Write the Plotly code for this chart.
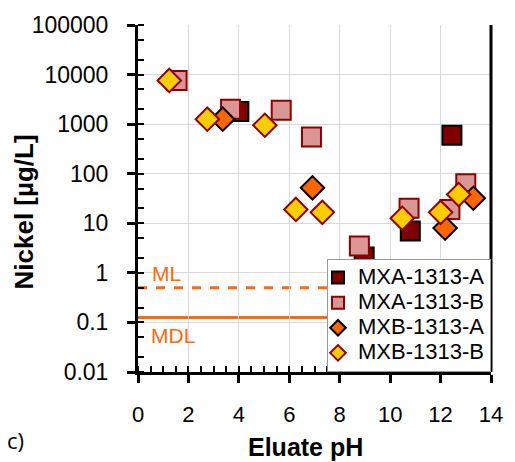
import plotly.graph_objects as go

# Data
mxa_a_ph = [4.0, 8.97, 10.8, 12.45]
mxa_a_ni = [1800, 2.1, 7, 600]

mxa_b_ph = [1.55, 3.67, 5.68, 6.88, 8.78, 10.75, 12.37, 13.0]
mxa_b_ni = [7600, 2000, 1900, 550, 3.5, 20, 19, 63]

mxb_a_ph = [3.36, 6.92, 12.18, 13.3]
mxb_a_ni = [1260, 52, 8, 32]

mxb_b_ph = [1.24, 2.75, 5.03, 6.26, 7.31, 10.48, 12.0, 12.72]
mxb_b_ni = [7600, 1260, 950, 19, 16.6, 12.6, 16.6, 38]

series_names = ["MXA-1313-A", "MXA-1313-B", "MXB-1313-A", "MXB-1313-B"]

ml_value = 0.5
mdl_value = 0.125

x_ticks = [0, 2, 4, 6, 8, 10, 12, 14]
y_ticks = [0.01, 0.1, 1, 10, 100, 1000, 10000, 100000]
y_labels = ["0.01", "0.1", "1", "10", "100", "1000", "10000", "100000"]

ORANGE = "#FF6A10"
FONT = "Liberation Sans, Arial, sans-serif"
LEG = "<span style='font-size:22px'>%s</span>"

fig = go.Figure()

# Limit lines
fig.add_shape(type="line", xref="paper", yref="y", x0=0, x1=1, y0=ml_value, y1=ml_value,
              line=dict(color=ORANGE, width=3, dash="dash"), layer="below")
fig.add_shape(type="line", xref="paper", yref="y", x0=0, x1=1, y0=mdl_value, y1=mdl_value,
              line=dict(color=ORANGE, width=3), layer="below")

fig.add_trace(go.Scatter(x=mxa_a_ph, y=mxa_a_ni, mode="markers", name=LEG % series_names[0],
                         marker=dict(symbol="square", size=19, color="#7F0000",
                                     line=dict(color="black", width=2))))
fig.add_trace(go.Scatter(x=mxa_b_ph, y=mxa_b_ni, mode="markers", name=LEG % series_names[1],
                         marker=dict(symbol="square", size=19, color="#D99694",
                                     line=dict(color="#8B0000", width=2))))
fig.add_trace(go.Scatter(x=mxb_a_ph, y=mxb_a_ni, mode="markers", name=LEG % series_names[2],
                         marker=dict(symbol="diamond", size=18, color="#FF6600",
                                     line=dict(color="black", width=2))))
fig.add_trace(go.Scatter(x=mxb_b_ph, y=mxb_b_ni, mode="markers", name=LEG % series_names[3],
                         marker=dict(symbol="diamond", size=18, color="#FFCC00",
                                     line=dict(color="#8B0000", width=2))))

fig.add_annotation(x=0.035, y=-0.02, xref="paper", yref="y", xanchor="left", yanchor="middle",
                   text="ML", showarrow=False, font=dict(family=FONT, size=21, color=ORANGE))
fig.add_annotation(x=0.03, y=-1.26, xref="paper", yref="y", xanchor="left", yanchor="middle",
                   text="MDL", showarrow=False, font=dict(family=FONT, size=21, color=ORANGE))
fig.add_annotation(x=0, y=0, xref="paper", yref="paper", xanchor="center", yanchor="middle",
                   text="c)", showarrow=False, font=dict(family="Open Sans, sans-serif", size=22, color="black"),
                   xshift=-123, yshift=-68)
# axis titles
fig.add_annotation(x=0, y=0.5, xref="paper", yref="paper", xanchor="center", yanchor="middle",
                   text="<b>Nickel [µg/L]</b>", textangle=-90, showarrow=False,
                   font=dict(family=FONT, size=26, color="black"), xshift=-115, yshift=-14)
fig.add_annotation(x=0.5, y=0, xref="paper", yref="paper", xanchor="center", yanchor="middle",
                   text="<b>Eluate pH</b>", showarrow=False,
                   font=dict(family=FONT, size=25, color="black"), xshift=-9, yshift=-75)

# right border
fig.add_shape(type="line", xref="paper", yref="paper", x0=1, x1=1, y0=0, y1=1,
              line=dict(color="black", width=3))

fig.update_layout(
    width=515, height=462,
    margin=dict(l=138, r=15, t=22, b=90),
    plot_bgcolor="white", paper_bgcolor="white",
    font=dict(family=FONT, size=23, color="black"),
    showlegend=True,
    legend=dict(x=1, y=0, xanchor="right", yanchor="bottom", bgcolor="white",
                bordercolor="#999999", borderwidth=1, font=dict(size=17, family=FONT),
                itemsizing="constant", tracegroupgap=0, itemwidth=30,
                indentation=-10),
    xaxis=dict(range=[0, 14], tickvals=x_ticks, showgrid=True, gridcolor="#D9D9D9", gridwidth=1,
               showline=True, linecolor="black", linewidth=3, ticks="outside", ticklen=8,
               tickwidth=3, tickcolor="black", zeroline=False, ticklabelstandoff=13,
               tickfont=dict(size=22),
               minor=dict(dtick=0.5, ticks="inside", ticklen=6, tickwidth=2, tickcolor="black", showgrid=False)),
    yaxis=dict(type="log", range=[-2, 5], tickvals=y_ticks, ticktext=y_labels, showgrid=True,
               gridcolor="#D9D9D9", gridwidth=1, showline=True, linecolor="black", linewidth=3,
               ticks="outside", ticklen=8, tickwidth=3, tickcolor="black", zeroline=False,
               ticklabelstandoff=14,
               minor=dict(ticks="inside", ticklen=6, tickwidth=2, tickcolor="black", showgrid=False)),
)

fig.write_html("out.html")
